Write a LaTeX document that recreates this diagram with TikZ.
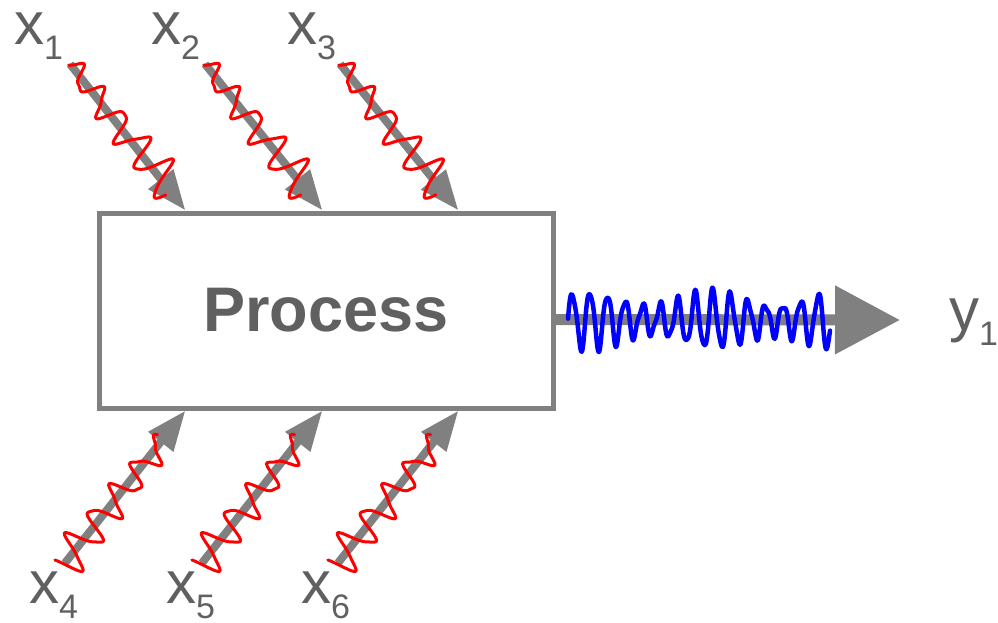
\documentclass[tikz,border=0pt]{standalone}
\usepackage{fontspec}
\setmainfont{Liberation Sans}
\usepackage{tikz}
\usetikzlibrary{positioning,arrows.meta}

\definecolor{arrgray}{RGB}{128,128,128}
\definecolor{txtgray}{RGB}{96,96,96}
\definecolor{sigred}{RGB}{255,0,0}
\definecolor{sigblue}{RGB}{0,0,255}

\newcommand{\sublab}[2]{{\fontsize{60}{60}\selectfont #1}\raisebox{-15pt}{\fontsize{34}{34}\selectfont #2}}

\begin{document}
\begin{tikzpicture}[
    x=1pt, y=-1pt,
    procbox/.style = {draw=arrgray, line width=5pt, minimum width=454pt, minimum height=195pt, text=txtgray, font=\fontsize{63}{63}\selectfont\bfseries},
    lab/.style = {inner sep=0pt, anchor=base west, text=txtgray},
    inarr/.style = {arrgray, line width=8pt, -{Triangle[length=40pt, width=30pt]}},
    outarr/.style = {arrgray, line width=11pt, -{Triangle[length=65pt, width=66pt]}},
    redwave/.style = {sigred, line width=3pt, line join=round, line cap=round},
    bluewave/.style = {sigblue, line width=4.5pt, line join=round, line cap=round}
]
\useasboundingbox (0,0) rectangle (998,622);

\node (proc) [procbox] at (326,310.5) {Process};

\node (x1) [lab] at (14,44) {\sublab{x}{1}};
\node (x2) [lab] at (151,44) {\sublab{x}{2}};
\node (x3) [lab] at (287,44) {\sublab{x}{3}};
\node (x4) [lab] at (29,603) {\sublab{x}{4}};
\node (x5) [lab] at (166,603) {\sublab{x}{5}};
\node (x6) [lab] at (301,603) {\sublab{x}{6}};
\node (y1) [lab] at (949,330) {\sublab{y}{1}};

\coordinate (s1) at (70,64);
\coordinate (s2) at (205,64);
\coordinate (s3) at (340,64);
\coordinate (s4) at (65,563);
\coordinate (s5) at (202,563);
\coordinate (s6) at (338,563);

\coordinate (t1) at ([xshift=89pt]proc.north west);
\coordinate (t2) at ([xshift=226pt]proc.north west);
\coordinate (t3) at ([xshift=362pt]proc.north west);
\coordinate (t4) at ([xshift=89pt]proc.south west);
\coordinate (t5) at ([xshift=226pt]proc.south west);
\coordinate (t6) at ([xshift=362pt]proc.south west);

\coordinate (pout) at ([yshift=-9pt]proc.east);
\coordinate (yout) at (900,320);

\draw[inarr] (s1) to (t1);
\draw[inarr] (s2) to (t2);
\draw[inarr] (s3) to (t3);
\draw[inarr] (s4) to (t4);
\draw[inarr] (s5) to (t5);
\draw[inarr] (s6) to (t6);
\draw[outarr] (pout) to (yout);

\foreach \s in {s1,s2,s3} {
  \begin{scope}[shift={(\s)}, rotate=-51]
    \draw[redwave] plot[domain=0:162, samples=240] (\x, {(8+0.07*\x)*sin(11*\x+180) + 2.5*sin(25*\x+40)});
  \end{scope}
}
\foreach \s in {s4,s5,s6} {
  \begin{scope}[shift={(\s)}, rotate=51]
    \draw[redwave] plot[domain=-4:158, samples=240] (\x, {(18-0.05*\x)*sin(11*\x+20) + 2.5*sin(27*\x)});
  \end{scope}
}
\begin{scope}[shift={(568,320)}]
  \draw[bluewave] plot[domain=0:262, samples=500] (\x, {-(22+7*sin(2.9*\x+30))*sin(20.5*\x) - 4*sin(43*\x+20)});
\end{scope}
\end{tikzpicture}
\end{document}
